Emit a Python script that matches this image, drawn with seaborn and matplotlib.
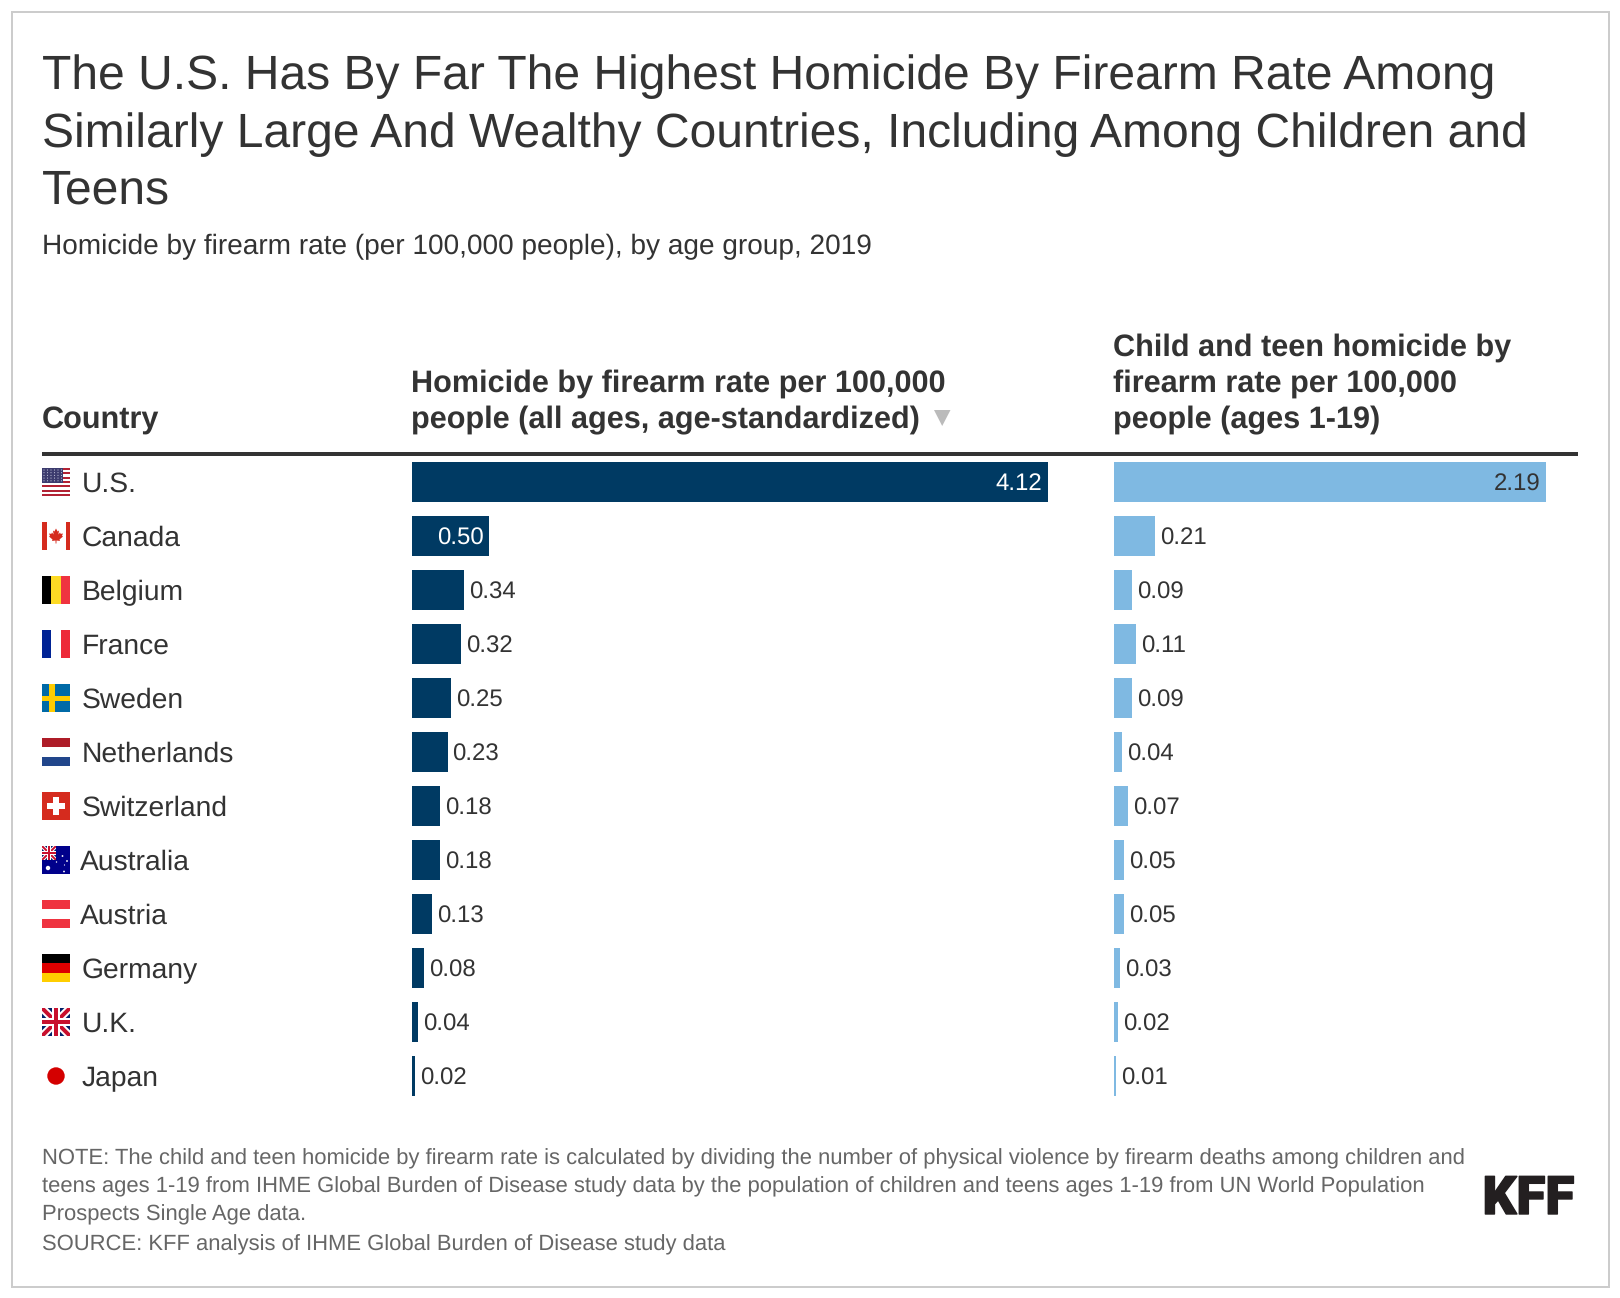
import numpy as np
import pandas as pd
import matplotlib
matplotlib.use("Agg")
import matplotlib.pyplot as plt
import matplotlib.patheffects as pe
from matplotlib.patches import Rectangle, Polygon, Circle
from matplotlib.transforms import ScaledTranslation
import seaborn as sns

countries = ["U.S.", "Canada", "Belgium", "France", "Sweden", "Netherlands",
             "Switzerland", "Australia", "Austria", "Germany", "U.K.", "Japan"]
all_ages = [4.12, 0.50, 0.34, 0.32, 0.25, 0.23, 0.18, 0.18, 0.13, 0.08, 0.04, 0.02]
children = [2.19, 0.21, 0.09, 0.11, 0.09, 0.04, 0.07, 0.05, 0.05, 0.03, 0.02, 0.01]
title_lines = ["The U.S. Has By Far The Highest Homicide By Firearm Rate Among",
               "Similarly Large And Wealthy Countries, Including Among Children and",
               "Teens"]
subtitle = "Homicide by firearm rate (per 100,000 people), by age group, 2019"
note_lines = ["NOTE: The child and teen homicide by firearm rate is calculated by dividing the number of physical violence by firearm deaths among children and",
              "teens ages 1-19 from IHME Global Burden of Disease study data by the population of children and teens ages 1-19 from UN World Population",
              "Prospects Single Age data.",
              "SOURCE: KFF analysis of IHME Global Burden of Disease study data"]

W, H = 1620, 1298
PX = 0.72
DARK, LIGHT, INK, GREY = "#003a63", "#7fb9e2", "#333333", "#666666"
sns.set_theme(style="white")
plt.rcParams["font.family"] = ["Liberation Sans", "DejaVu Sans"]
plt.rcParams["text.hinting"] = "no_hinting"
df = pd.DataFrame({"country": countries, "all_ages": all_ages, "children": children})

fig = plt.figure(figsize=(W / 100, H / 100), dpi=100, facecolor="white")
ov = fig.add_axes([0, 0, 1, 1], zorder=5)
ov.set_xlim(0, W); ov.set_ylim(H, 0); ov.axis("off")
ov.patch.set_alpha(0)

ROW = 54; TOP = 455; n = len(countries)
def panel(left, width, col, color, xmax):
    ax = fig.add_axes([left / W, 1 - (TOP + ROW * n) / H, width / W, ROW * n / H], zorder=2)
    sns.barplot(data=df, y="country", x=col, ax=ax, color=color, saturation=1,
                width=40 / ROW, orient="h", order=countries, linewidth=0)
    ax.set_xlim(0, xmax); ax.set_ylim(n - .5, -.5)
    ax.set_xlabel(""); ax.set_ylabel("")
    ax.set_xticks([])
    sns.despine(ax=ax, left=True, bottom=True)
    ax.patch.set_alpha(0)
    return ax

ax1 = panel(412, 636, "all_ages", DARK, 4.12)
ax2 = panel(1114, 432, "children", LIGHT, 2.19)
ax2.set_yticks([])
ax1.set_yticks(range(n), countries)
ax1.tick_params(axis="y", length=0, pad=(412 - 81.7) * PX, labelsize=28.2 * PX, labelcolor=INK)
for t in ax1.get_yticklabels():
    t.set_ha("left")
    if t.get_text().startswith("Aus"):
        t.set_transform(t.get_transform() + ScaledTranslation(-1.7 / 100, 0, fig.dpi_scale_trans))

def labels(ax, vals, inside_color, inside_if):
    for i, v in enumerate(vals):
        inside = inside_if(v)
        ax.annotate(f"{v:.2f}", (v, i), xytext=((-5.5 if inside else 5) * PX, 0.2 * PX),
                    textcoords="offset points", va="center_baseline",
                    ha="right" if inside else "left",
                    color=inside_color if inside else INK, fontsize=24 * PX,
                    annotation_clip=False)
labels(ax1, all_ages, "white", lambda v: v >= 0.5)
labels(ax2, children, INK, lambda v: v >= 1)

# Frame and rule
ov.add_patch(Rectangle((11.5, 11.5), 1597, 1275, fill=False, ec="#cccccc", lw=2 * PX))
ov.add_patch(Rectangle((42, 452), 1536, 4, fc=INK, ec="none"))
ov.add_patch(Polygon([(934, 410), (950.5, 410), (942.2, 426)], fc="#bbbbbb", ec="none"))

# Text
for y, s in zip([89, 147, 204], title_lines):
    ov.text(42, y, s, fontsize=48 * PX, color=INK, va="baseline")
ov.text(42, 254, subtitle, fontsize=28 * PX, color=INK, va="baseline")
hdr = dict(fontsize=30.7 * PX, color=INK, weight="bold", va="baseline")
ov.text(42, 428.5, "Country", **hdr)
ov.text(411, 392, "Homicide by firearm rate per 100,000", **hdr)
ov.text(411, 428, "people (all ages, age-standardized)", **hdr)
ov.text(1113, 356, "Child and teen homicide by", **hdr)
ov.text(1113, 392, "firearm rate per 100,000", **hdr)
ov.text(1113, 428, "people (ages 1-19)", **hdr)
for y, s in zip([1164, 1192, 1220, 1250], note_lines):
    ov.text(42, y, s, fontsize=22 * PX, color=GREY, va="baseline")
ov.text(1482.5, 1214, "KFF", fontsize=53 * PX, family="Roboto", weight="black", color="#231f20",
        va="baseline", path_effects=[pe.withStroke(linewidth=1, foreground="#231f20")])

# Flags
def rect(x, y, w, h, c):
    p = Rectangle((x, y), w, h, fc=c, ec="none"); ov.add_patch(p); return p
def poly(pts, c, clip=None):
    p = Polygon(pts, fc=c, ec="none"); ov.add_patch(p)
    if clip is not None:
        p.set_clip_path(clip)
    return p
def jack(x, y, s):
    blue, red = "#012169", "#c8102e"
    bg = rect(x, y, s, s, blue)
    a, b = s * .10, s * .05
    for (x0, y0, x1, y1) in [(x, y, x + s, y + s), (x, y + s, x + s, y)]:
        for wd, c in [(a, "white"), (b, red)]:
            poly([(x0 - wd, y0 + (wd if y1 > y0 else -wd)), (x0 + wd, y0 - (wd if y1 > y0 else -wd)),
                  (x1 + wd, y1 - (wd if y1 > y0 else -wd)), (x1 - wd, y1 + (wd if y1 > y0 else -wd))], c, bg)
    rect(x + s * .36, y, s * .28, s, "white"); rect(x, y + s * .36, s, s * .28, "white")
    rect(x + s * .42, y, s * .16, s, red); rect(x, y + s * .42, s, s * .16, red)

def draw_flag(name, y):
    x, s = 42, 28
    if name == "U.S.":
        for k in range(13):
            rect(x, y + k * s / 13, s, s / 13 + .1, "#b22234" if k % 2 == 0 else "white")
        rect(x, y, 21.3, 14.7, "#3c3b6e")
        for r in range(5):
            for c in range(6):
                ov.add_patch(Circle((x + 2 + c * 3.5, y + 2 + r * 2.7), .55, fc="#c9cbe0", ec="none"))
    elif name == "Canada":
        rect(x, y, s, s, "white"); rect(x, y, 4.7, s, "#d52b1e"); rect(x + 24, y, 4, s, "#d52b1e")
        cx, cy = x + 14, y + 13.5
        leaf = [(0, -7), (1.6, -4), (3, -5), (2.4, -1), (4, -3), (4.7, -1.6), (7, -2), (6, .3), (7, 1),
                (3.5, 4), (4, 5.5), (.5, 5), (.4, 8), (-.4, 8), (-.5, 5), (-4, 5.5), (-3.5, 4), (-7, 1),
                (-6, .3), (-7, -2), (-4.7, -1.6), (-4, -3), (-2.4, -1), (-3, -5), (-1.6, -4)]
        poly([(cx + a, cy + b) for a, b in leaf], "#d52b1e")
    elif name in ("Belgium", "France"):
        cols = ["#000000", "#fdda24", "#ef3340"] if name == "Belgium" else ["#002395", "white", "#ed2939"]
        for k, c in enumerate(cols):
            rect(x + k * s / 3, y, s / 3, s, c)
    elif name == "Sweden":
        rect(x, y, s, s, "#006aa7"); rect(x + 7.4, y, 5.6, s, "#fecc00"); rect(x, y + 11.6, s, 5.4, "#fecc00")
    elif name in ("Netherlands", "Austria", "Germany"):
        cols = {"Netherlands": ["#ae1c28", "white", "#21468b"],
                "Austria": ["#ef3340", "white", "#ef3340"],
                "Germany": ["#000000", "#dd0000", "#ffce00"]}[name]
        for k, c in enumerate(cols):
            rect(x, y + k * s / 3, s, s / 3, c)
    elif name == "Switzerland":
        rect(x, y, s, s, "#d52b1e"); rect(x + 11, y + 5, 6, 18, "white"); rect(x + 5, y + 11, 18, 6, "white")
    elif name == "Australia":
        rect(x, y, s, s, "#00008b"); jack(x, y, 14)
        for a, b, r in [(6, 22, 2.2), (20.5, 10, .9), (25, 15, .9), (22, 25.5, .9), (14.5, 16, .7), (22.5, 19, .6)]:
            ov.add_patch(Circle((x + a, y + b), r, fc="white", ec="none"))
    elif name == "U.K.":
        jack(x, y, s)
    elif name == "Japan":
        rect(x, y, s, s, "white")
        ov.add_patch(Circle((x + 14, y + 14), 8.7, fc="#d40000", ec="none"))

for i, c in enumerate(countries):
    draw_flag(c, 468 + ROW * i)

fig.savefig("out.png", dpi=100, facecolor="white")
